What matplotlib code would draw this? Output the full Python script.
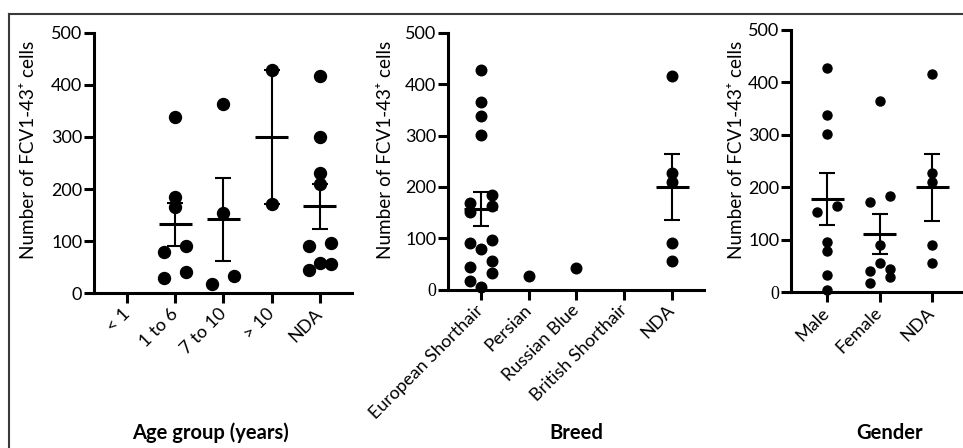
import numpy as np
import matplotlib.pyplot as plt
from matplotlib.lines import Line2D

plt.rcParams['font.family'] = ['Lato', 'DejaVu Sans']

# Age panel
age_groups = ['< 1', '1 to 6', '7 to 10', '> 10', 'NDA']
age_values = [
    [],
    [338, 185, 165, 90, 79, 40, 28],
    [363, 153, 33, 18],
    [428, 171],
    [417, 300, 230, 209, 96, 90, 57, 55, 44],
]

# Breed panel
breeds = ['European Shorthair', 'Persian', 'Russian Blue', 'British Shorthair', 'NDA']
breed_values = [
    [428, 365, 338, 301, 185, 169, 163, 152, 96, 90, 78, 55, 43, 32, 16, 4],
    [27],
    [41],
    [],
    [417, 228, 209, 90, 55],
]

# Gender panel
genders = ['Male', 'Female', 'NDA']
gender_values = [
    [428, 338, 302, 164, 152, 95, 79, 33, 4],
    [365, 184, 171, 90, 55, 44, 41, 28, 17],
    [416, 228, 209, 90, 55],
]

ylabel = 'Number of FCV1-43\u207a cells'
W, H = 963, 448


def row_offsets(vals, sy, bin_px, step_px, sx):
    # group close values into rows and spread them sideways (Prism-like)
    order = np.argsort(vals)[::-1]
    offs = np.zeros(len(vals))
    rows = []
    for idx in order:
        if rows and (vals[rows[-1][0]] - vals[idx]) * sy < bin_px:
            rows[-1].append(idx)
        else:
            rows.append([idx])
    for r in rows:
        n = len(r)
        if n % 2:
            slots = [0] + [s * k for k in range(1, n // 2 + 1) for s in (1, -1)]
        else:
            slots = [s * k for k in range(1, n // 2 + 1) for s in (1, -1)]
        for idx, k in zip(r, slots):
            offs[idx] = k * step_px / sx
    return offs


def panel(rect, cats, groups, xmax, msize, step_px, serif_zero):
    ax = fig.add_axes(rect)
    x = np.arange(len(cats))
    ax.set_xlim(-0.69, xmax)
    ax.set_ylim(0, 500)
    p0 = ax.transData.transform((0, 0))
    p1 = ax.transData.transform((1, 1))
    sx, sy = p1 - p0
    for i, vals in enumerate(groups):
        if not vals:
            continue
        v = np.array(vals, dtype=float)
        offs = row_offsets(v, sy, 8.3, step_px, sx)
        ax.plot(x[i] + offs, v, 'o', color='black', ms=msize, mec='black',
                clip_on=False, zorder=2)
        if len(v) > 1:
            m = v.mean()
            sem = v.std(ddof=1) / np.sqrt(len(v))
            w = 16.5 / sx
            ax.plot([x[i] - w, x[i] + w], [m, m], color='black', lw=2.2,
                    solid_capstyle='butt', zorder=3)
            ax.errorbar(x[i], m, yerr=sem, fmt='none', ecolor='black',
                        elinewidth=1.5, capsize=6, capthick=1.5, zorder=3)
    for s in ['top', 'right']:
        ax.spines[s].set_visible(False)
    for s in ['left', 'bottom']:
        ax.spines[s].set_linewidth(2.2)
    ax.set_yticks([0, 100, 200, 300, 400, 500])
    ax.set_xticks(x)
    ax.set_xticklabels(cats, rotation=45, ha='right', va='center',
                       rotation_mode='anchor')
    ax.tick_params(axis='both', length=7, width=2.2, labelsize=13,
                   color='black', labelcolor='black')
    ax.tick_params(axis='x', pad=6)
    ax.tick_params(axis='y', pad=1.5)
    if serif_zero:
        ax.get_yticklabels()[0].set_fontfamily('Liberation Serif')
    return ax


fig = plt.figure(figsize=(W / 100, H / 100), dpi=100)

panel([94 / W, 1 - 293 / H, 258 / W, 260 / H], age_groups, age_values,
      4.67, 8.6, 11, False)
panel([448 / W, 1 - 289.5 / H, 256 / W, 256.5 / H], breeds, breed_values,
      4.67, 7.6, 11, True)
panel([791 / W, 1 - 292 / H, 171 / W, 262 / H], genders, gender_values,
      2.57, 6.5, 10, True)

for xc in [28, 385, 736]:
    fig.text(xc / W, 1 - 150 / H, ylabel, rotation=90, ha='center',
             va='center', fontsize=13.6)

for xc, t in [(210, 'Age group (years)'), (576, 'Breed'), (890, 'Gender')]:
    fig.text(xc / W, 1 - 433 / H, t, ha='center', va='center',
             fontsize=14.5, fontweight='bold')

# outer frame (only the top and left edges fall inside the crop)
fig.add_artist(Line2D([9 / W, 9 / W], [0, 1 - 14 / H], color='#3a3a3a',
                      lw=1.5, transform=fig.transFigure))
fig.add_artist(Line2D([9 / W, 1], [1 - 14 / H, 1 - 14 / H], color='#3a3a3a',
                      lw=1.5, transform=fig.transFigure))

fig.savefig('out.png', dpi=100)
